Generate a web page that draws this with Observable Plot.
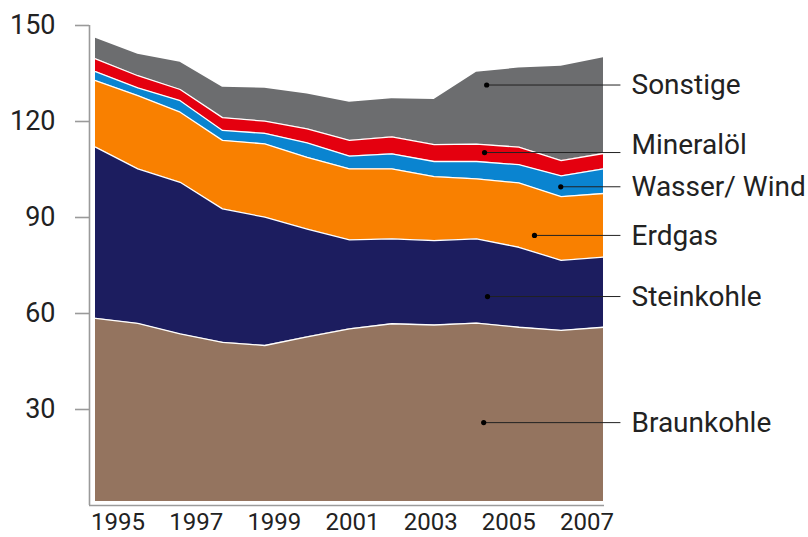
<!DOCTYPE html>
<html>
<head>
<meta charset="utf-8">
<script src="https://cdn.jsdelivr.net/npm/d3@7"></script>
<script src="https://cdn.jsdelivr.net/npm/@observablehq/plot@0.6"></script>
<style>
  html, body { margin: 0; padding: 0; background: #fff; }
  #chart svg { font-family: Roboto, "Noto Sans", sans-serif; font-weight: 400; }
</style>
</head>
<body>
<div id="chart"></div>
<script>
// ---- data ----
const years = [1995, 1996, 1997, 1998, 1999, 2000, 2001, 2002, 2003, 2004, 2005, 2006, 2007];
const braunkohle = [58.5, 56.9, 53.6, 51.0, 50.0, 52.7, 55.2, 56.8, 56.4, 57.0, 55.7, 54.7, 55.7];
const steinkohle = [53.5, 48.3, 47.4, 41.7, 40.1, 33.7, 27.8, 26.5, 26.4, 26.3, 25.0, 21.9, 21.9];
const erdgas     = [20.8, 22.9, 21.9, 21.4, 22.9, 22.4, 22.2, 21.9, 20.0, 18.8, 20.1, 19.9, 19.9];
const wasserWind = [2.8, 2.4, 3.6, 3.1, 3.3, 4.5, 4.0, 4.7, 4.7, 5.4, 5.7, 6.5, 7.7];
const mineraloel = [4.0, 3.8, 3.5, 4.0, 3.8, 4.4, 4.9, 5.3, 5.3, 5.4, 5.5, 4.8, 4.8];
const sonstige   = [6.4, 6.7, 8.5, 9.5, 10.3, 10.9, 11.9, 11.9, 14.1, 22.5, 24.7, 29.5, 29.9];

const seriesNames = ["Braunkohle", "Steinkohle", "Erdgas", "Wasser/ Wind", "Mineralöl", "Sonstige"];
const seriesValues = [braunkohle, steinkohle, erdgas, wasserWind, mineraloel, sonstige];
const seriesColors = ["#94745f", "#1c1d5f", "#f98000", "#0a84d0", "#e4000f", "#6c6d6f"];

const xTickYears = [1995, 1997, 1999, 2001, 2003, 2005, 2007];
const yTicks = [30, 60, 90, 120, 150];

// label anchors (dot position in year/value units, text line position in value units)
const labelNames = ["Sonstige", "Mineralöl", "Wasser/ Wind", "Erdgas", "Steinkohle", "Braunkohle"];
const labelDotYear = [2004.24, 2004.19, 2005.99, 2005.37, 2004.26, 2004.17];
const labelDotValue = [131.4, 110.3, 99.6, 84.4, 65.3, 25.9];
const labelTextValue = [131.4, 112.7, 99.6, 84.2, 65.1, 25.9];

// ---- build tables ----
const table = [];
seriesNames.forEach((name, s) => {
  years.forEach((yr, i) => table.push({ series: name, year: yr, value: seriesValues[s][i] }));
});
const labels = labelNames.map((name, i) => ({
  name, x: labelDotYear[i], y: labelDotValue[i], ty: labelTextValue[i]
}));

const lastYear = years[years.length - 1];

const chart = Plot.plot({
  width: 808,
  height: 537,
  marginLeft: 89,
  marginRight: 204,
  marginTop: 25,
  marginBottom: 32,
  x: { domain: [years[0], lastYear], range: [95, 603], axis: null },
  y: { domain: [0, 150], range: [505, 25], axis: null },
  color: { domain: seriesNames, range: seriesColors },
  marks: [
    Plot.areaY(table, { x: "year", y: "value", z: "series", fill: "series" }),
    Plot.lineY(table, Plot.stackY2({
      x: "year", y: "value", z: "series",
      filter: d => d.series !== "Sonstige",
      stroke: "white", strokeWidth: 1.3
    })),
    // white gap above the x axis line
    Plot.ruleY([0], { stroke: "white", strokeWidth: 9 }),
    // axis lines
    Plot.ruleY([0], { stroke: "#9a9a9a", strokeWidth: 1.6 }),
    Plot.ruleX([years[0]], { y1: 0, y2: 150, dx: -6, stroke: "#9a9a9a", strokeWidth: 1.6 }),
    Plot.axisY({
      ticks: yTicks, tickSize: 14, tickPadding: 20, fontSize: 27,
      stroke: "#9a9a9a", strokeWidth: 1.6, fill: "#222", tickFormat: d => String(d)
    }),
    Plot.text(xTickYears, {
      x: d => years[0] + (d - years[0] + 0.5) * (lastYear - years[0]) / years.length,
      y: () => 0, dy: 17, dx: 3, text: d => String(d), fontSize: 24, fill: "#222"
    }),
    // leader lines, dots and labels
    Plot.link(labels, { x1: "x", y1: "y", x2: () => lastYear + 0.4, y2: "y", stroke: "#222", strokeWidth: 1 }),
    Plot.dot(labels, { x: "x", y: "y", r: 2.6, fill: "#000", stroke: null }),
    Plot.text(labels, {
      x: () => lastYear, y: "ty", dx: 28, text: "name", textAnchor: "start",
      fontSize: 28, fill: "#222"
    })
  ]
});
document.getElementById("chart").appendChild(chart);
</script>
</body>
</html>
